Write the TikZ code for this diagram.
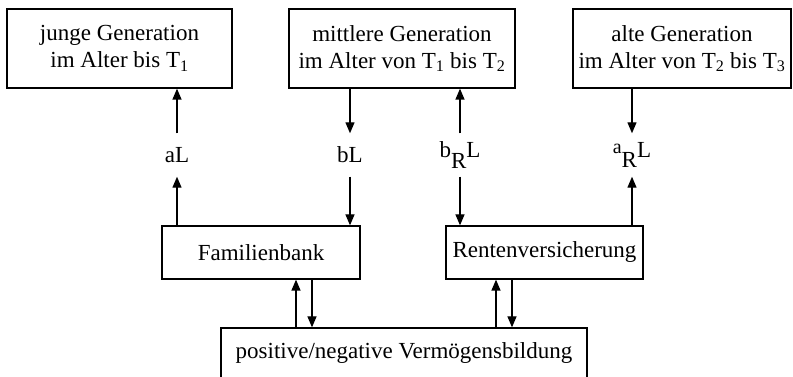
\documentclass[tikz,border=0pt]{standalone}
\usepackage{fontspec}
\setmainfont{Liberation Serif}
\usetikzlibrary{arrows.meta}
\begin{document}
\begin{tikzpicture}[x=1pt,y=1pt,
  font=\fontsize{23}{27}\selectfont,
  box/.style={draw, line width=1.3pt, inner sep=0pt, align=center},
  lab/.style={inner sep=0pt, minimum height=43pt},
  arr/.style={line width=1.3pt, -{Triangle[length=11pt,width=9pt]}}]
\useasboundingbox (0,0) rectangle (793,377);
\clip (0,0) rectangle (793,377);
% top boxes
\node[box, minimum width=225pt, minimum height=79pt] (jung) at (119.5,328.5) {junge Generation\\im Alter bis T\textsubscript{1}};
\node[box, minimum width=226pt, minimum height=79pt] (mit) at (402,328.5) {mittlere Generation\\im Alter von T\textsubscript{1} bis T\textsubscript{2}};
\node[box, minimum width=218pt, minimum height=79pt] (alt) at (682,328.5) {alte Generation\\im Alter von T\textsubscript{2} bis T\textsubscript{3}};
% middle boxes
\node[box, minimum width=198pt, minimum height=53pt] (fam) at (261,124.5) {Familienbank};
\node[box, minimum width=197pt, minimum height=53pt] (ren) at (544.5,124.5) {Rentenversicherung};
% bottom box
\node[box, minimum width=366pt, minimum height=60pt, text depth=15pt] (bot) at (404,19) {positive/negative Vermögensbildung};
% labels
\node[lab] (aL) at (177,222) {aL};
\node[lab] (bL) at (350,222) {bL};
\node[lab] (bRL) at (460,222) {b\raisebox{-0.45em}{R}L};
\node[lab] (aRL) at (632,222) {\raisebox{0.15em}{\fontsize{20}{20}\selectfont a}\raisebox{-0.45em}{R}L};
% arrows top
\draw[arr] (aL.north) -- (aL.north |- jung.south);
\draw[arr] (fam.north -| aL) -- (aL.south);
\draw[arr] (mit.south -| bL) -- (bL.north);
\draw[arr] (bL.south) -- (bL.south |- fam.north);
\draw[arr] (bRL.north) -- (bRL.north |- mit.south);
\draw[arr] (bRL.south) -- (bRL.south |- ren.north);
\draw[arr] (alt.south -| aRL) -- (aRL.north);
\draw[arr] (ren.north -| aRL) -- (aRL.south);
% arrows bottom
\coordinate (f1) at (296,0);
\coordinate (f2) at (312,0);
\coordinate (r1) at (496,0);
\coordinate (r2) at (512,0);
\draw[arr] (bot.north -| f1) -- (fam.south -| f1);
\draw[arr] (fam.south -| f2) -- (bot.north -| f2);
\draw[arr] (bot.north -| r1) -- (ren.south -| r1);
\draw[arr] (ren.south -| r2) -- (bot.north -| r2);
\end{tikzpicture}
\end{document}
